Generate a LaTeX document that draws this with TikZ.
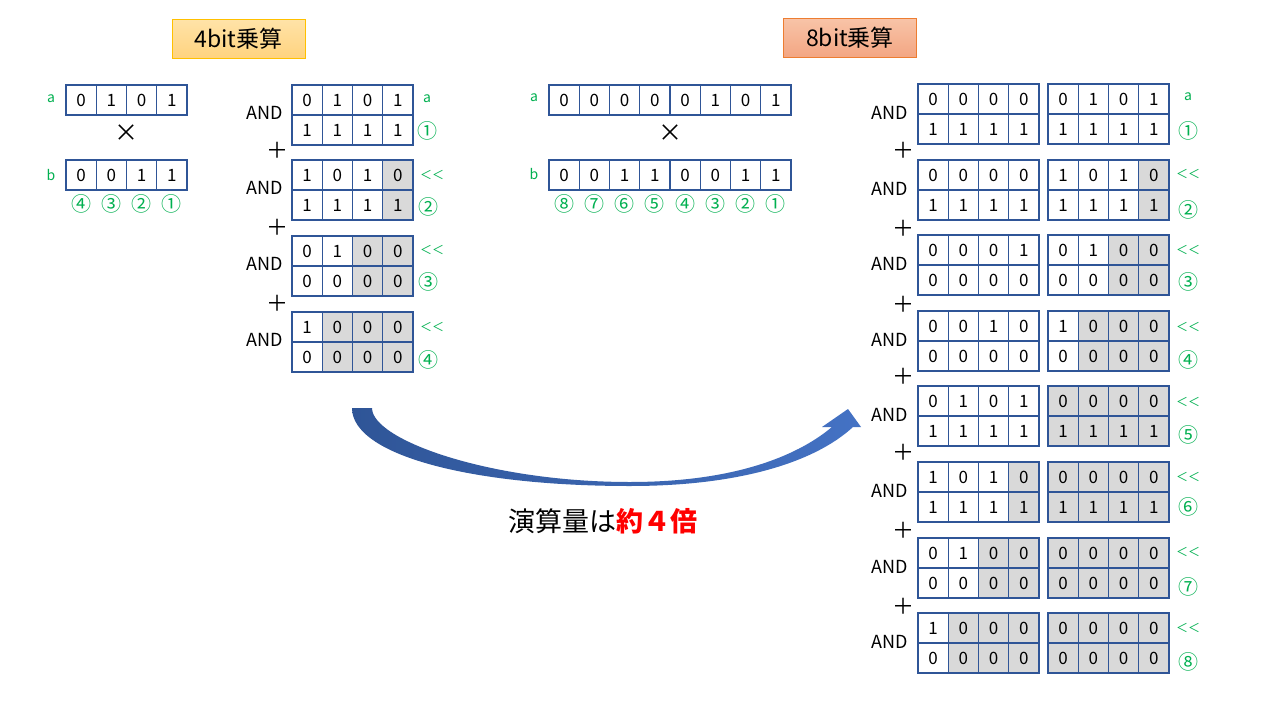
\documentclass[tikz,border=0pt]{standalone}
\usepackage{fontspec}
\setmainfont{Noto Sans CJK JP}
\definecolor{cellblue}{HTML}{2F5597}
\definecolor{cellgrey}{HTML}{D9D9D9}
\definecolor{lblgreen}{HTML}{00B050}
\definecolor{arrowdark}{HTML}{2F5597}
\definecolor{arrowlight}{HTML}{4472C4}
\definecolor{redtxt}{HTML}{FF0000}
\definecolor{ybord}{HTML}{FFC000}
\definecolor{ytop}{HTML}{FFE3A8}
\definecolor{ybot}{HTML}{FFD37F}
\definecolor{obord}{HTML}{ED7D31}
\definecolor{otop}{HTML}{F8C4A8}
\definecolor{obot}{HTML}{F3A683}
\newcommand\bitrow[5]{%
  \foreach \d [count=\i] in {#4} {%
    \ifnum\i>#5\relax \def\fc{cellgrey}\else \def\fc{white}\fi
    \node[cell,fill=\fc] (#1-\i) at ({#2+(\i-0.5)*30.25},{#3+15}) {\d};
  }}
\newcommand\blockeight[8]{%
  \bitrow{L#1t}{918}{#2}{#3}{#7}
  \bitrow{R#1t}{1048}{#2}{#4}{#8}
  \bitrow{L#1b}{918}{#2+30}{#5}{#7}
  \bitrow{R#1b}{1048}{#2+30}{#6}{#8}
  \node[andlbl] (andE#1) at (890,{#2+29}) {AND};
}
\newcommand\blockfour[6]{%
  \bitrow{F#1t}{292}{#2}{#3}{#5}
  \bitrow{F#1b}{292}{#2+30}{#4}{#5}
  \node[andlbl] (andF#1) at (265,{#2+28}) {AND};
}
\begin{document}
\begin{tikzpicture}[x=1pt,y=-1pt,
  cell/.style={draw=cellblue,line width=1.2pt,minimum width=30.25pt,minimum height=30pt,inner sep=0pt,font=\fontsize{17}{17}\selectfont},
  andlbl/.style={inner sep=0pt,font=\fontsize{18}{18}\selectfont},
  oplbl/.style={inner sep=0pt,font=\fontsize{24}{24}\selectfont},
  plbl/.style={inner sep=0pt,font=\fontsize{22}{22}\selectfont},
  grnlbl/.style={inner sep=0pt,text=lblgreen,font=\fontsize{14}{14}\selectfont},
  shiftlbl/.style={inner sep=0pt,text=lblgreen,font=\fontsize{12}{12}\selectfont},
  circ/.style={inner sep=0pt,text=lblgreen,font=\fontsize{20}{20}\selectfont},
  titlebox/.style={draw,line width=1pt,minimum width=133pt,minimum height=39pt,inner sep=0pt,font=\fontsize{23}{23}\selectfont}]
\useasboundingbox (0,0) rectangle (1280,720);
\fill[white] (0,0) rectangle (1280,720);

% titles
\node[titlebox,draw=ybord,top color=ytop,bottom color=ybot] (t4) at (238.5,38.5) {4bit乗算};
\node[titlebox,draw=obord,top color=otop,bottom color=obot] (t8) at (850,37.5) {8bit乗算};

% 4bit operands
\bitrow{a4}{66}{85}{0,1,0,1}{4}
\bitrow{b4}{66}{160}{0,0,1,1}{4}
\node[grnlbl] (la4) at (51,99) {a};
\node[grnlbl] (lb4) at (51,175) {b};
\node[oplbl] (x4) at (126,133) {×};
\node[circ] (b4n4) at (81.1,204) {④};
\node[circ] (b4n3) at (111.4,204) {③};
\node[circ] (b4n2) at (141.6,204) {②};
\node[circ] (b4n1) at (171.9,204) {①};

% 4bit partial products
\blockfour{1}{85}{0,1,0,1}{1,1,1,1}{4}{}
\blockfour{2}{160}{1,0,1,0}{1,1,1,1}{3}{}
\blockfour{3}{236}{0,1,0,0}{0,0,0,0}{2}{}
\blockfour{4}{312}{1,0,0,0}{0,0,0,0}{1}{}
\node[plbl] (p41) at (277,150) {＋};
\node[plbl] (p42) at (277,227) {＋};
\node[plbl] (p43) at (277,303) {＋};
\node[grnlbl] (ra4) at (427,99) {a};
\node[circ] (rc41) at (427,131) {①};
\node[shiftlbl] (rs42) at (432,175) {＜＜};
\node[circ] (rc42) at (428,207) {②};
\node[shiftlbl] (rs43) at (432,250) {＜＜};
\node[circ] (rc43) at (428,282) {③};
\node[shiftlbl] (rs44) at (432,327) {＜＜};
\node[circ] (rc44) at (428,360) {④};

% 8bit operands
\bitrow{a8}{549}{85}{0,0,0,0,0,1,0,1}{8}
\bitrow{b8}{549}{160}{0,0,1,1,0,0,1,1}{8}
\node[grnlbl] (la8) at (534,98) {a};
\node[grnlbl] (lb8) at (534,174) {b};
\node[oplbl] (x8) at (670,133) {×};
\foreach \c [count=\i] in {⑧,⑦,⑥,⑤,④,③,②,①}
  \node[circ] (b8n\i) at ({549+(\i-0.5)*30.25},204) {\c};

% 8bit partial products
\blockeight{1}{84}{0,0,0,0}{0,1,0,1}{1,1,1,1}{1,1,1,1}{4}{4}
\blockeight{2}{160}{0,0,0,0}{1,0,1,0}{1,1,1,1}{1,1,1,1}{4}{3}
\blockeight{3}{235}{0,0,0,1}{0,1,0,0}{0,0,0,0}{0,0,0,0}{4}{2}
\blockeight{4}{311}{0,0,1,0}{1,0,0,0}{0,0,0,0}{0,0,0,0}{4}{1}
\blockeight{5}{386}{0,1,0,1}{0,0,0,0}{1,1,1,1}{1,1,1,1}{4}{0}
\blockeight{6}{462}{1,0,1,0}{0,0,0,0}{1,1,1,1}{1,1,1,1}{3}{0}
\blockeight{7}{538}{0,1,0,0}{0,0,0,0}{0,0,0,0}{0,0,0,0}{2}{0}
\blockeight{8}{613}{1,0,0,0}{0,0,0,0}{0,0,0,0}{0,0,0,0}{1}{0}
\foreach \yy [count=\i] in {150,228,304,376,452,530,606}
  \node[plbl] (p8\i) at (903,\yy) {＋};
\node[grnlbl] (ra8) at (1188,97) {a};
\node[circ] (rc81) at (1188,131) {①};
\foreach \ys/\yc/\c [count=\i from 2] in {174/210/②,250/282/③,327/360/④,402/435/⑤,477/507/⑥,552/587/⑦,628/662/⑧}{
  \node[shiftlbl] (rs8\i) at (1188,\ys) {＜＜};
  \node[circ] (rc8\i) at (1188,\yc) {\c};
}

% curved arrow
\shade[left color=arrowdark,right color=arrowlight]
  (352,408) .. controls (352,455) and (470,486) .. (630,486)
  .. controls (740,486) and (815,462) .. (853,427)
  -- (861,427) -- (848,409) -- (822,427) -- (832,427)
  .. controls (795,458) and (730,482) .. (630,482)
  .. controls (490,482) and (372,440) .. (372,408) -- cycle;

\node[inner sep=0pt,font=\fontsize{27}{27}\selectfont] (res) at (603,521) {演算量は{\color{redtxt}\bfseries 約４倍}};
\end{tikzpicture}
\end{document}
